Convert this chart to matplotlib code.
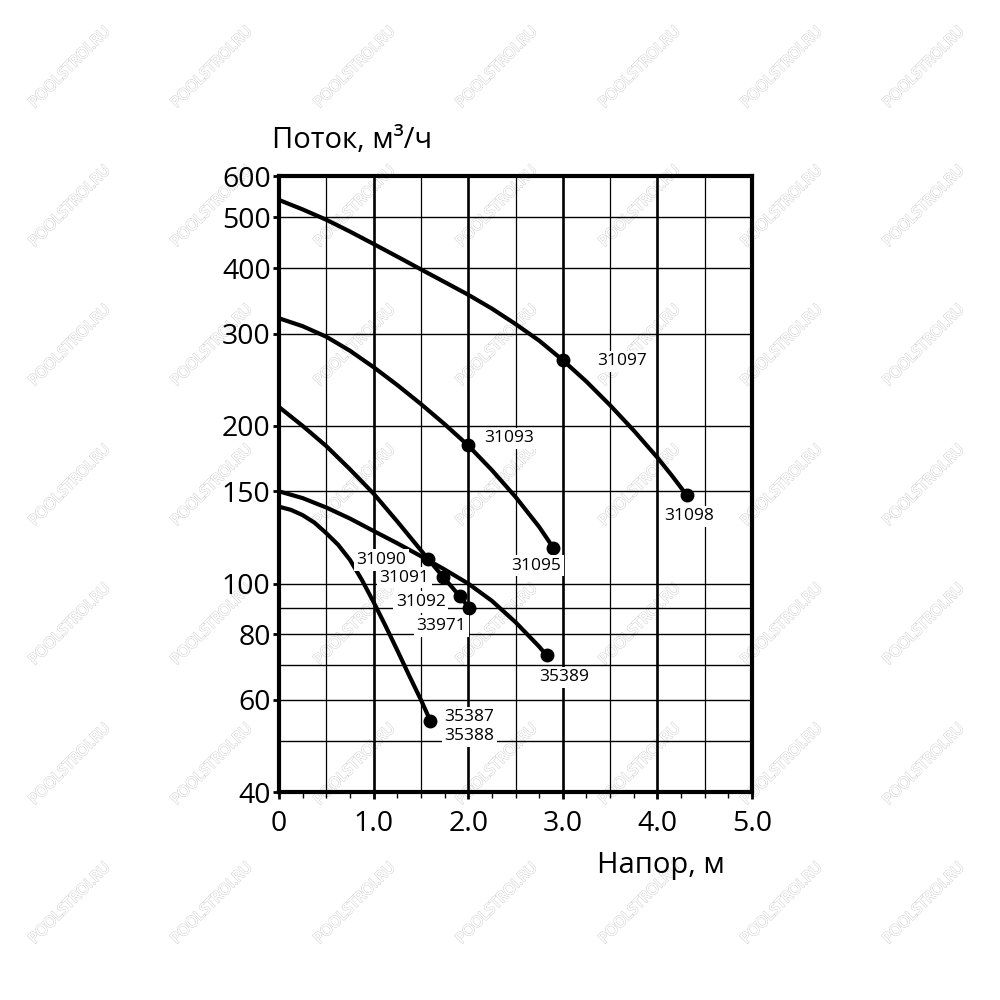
import matplotlib
matplotlib.use("Agg")
import matplotlib.pyplot as plt
import matplotlib.patheffects as pe
from matplotlib.ticker import FixedLocator, MultipleLocator, NullLocator, FixedFormatter

plt.rcParams['font.family'] = ['Open Sans', 'DejaVu Sans']

# ---- data (head in m, flow in m3/h) ----
head_a = [0, 0.25, 0.5, 0.75, 1.0, 1.25, 1.5, 1.75, 2.0, 2.25, 2.5, 2.75, 3.0, 3.25, 3.5, 3.75, 4.0, 4.15, 4.31]
flow_a = [540, 518, 495, 470, 445, 421, 398, 376.5, 356, 335, 313, 291, 267, 243, 219, 196, 174, 161, 147.5]

head_b = [0, 0.25, 0.5, 0.75, 1.0, 1.25, 1.5, 1.75, 2.0, 2.25, 2.5, 2.75, 2.9]
flow_b = [321, 310, 296, 278.3, 258.9, 239.4, 220.2, 201.6, 183.5, 164.7, 146.4, 128.3, 117]

head_c = [0, 0.25, 0.5, 0.75, 1.0, 1.25, 1.576, 1.734, 1.909, 2.01]
flow_c = [217.3, 200, 183, 165.3, 148.5, 131.4, 111.4, 103, 94.7, 89.8]

head_d = [0, 0.25, 0.5, 0.75, 1.0, 1.25, 1.5, 1.75, 2.0, 2.25, 2.5, 2.75, 2.83]
flow_d = [150, 145.6, 139.7, 133.1, 126, 119.4, 112.8, 106.4, 100, 92.7, 84.4, 75.8, 72.9]

head_e = [0, 0.125, 0.25, 0.375, 0.5, 0.625, 0.75, 0.875, 1.0, 1.125, 1.25, 1.375, 1.5, 1.6]
flow_e = [140.2, 138.3, 135.1, 130.7, 124.8, 118.6, 111.0, 101.7, 92.2, 83.1, 74.6, 66.8, 60.0, 54.7]

# marked points (index in each curve) and their labels
marked_a = [12, 18]
marked_b = [8, 12]
marked_c = [6, 7, 8, 9]
marked_d = [12]
marked_e = [13]

labels_a = ['31097', '31098']
labels_b = ['31093', '31095']
labels_c = ['31090', '31091', '31092', '33971']
labels_d = ['35389']
labels_e = ['35387\n35388']

y_ticks = [40, 60, 80, 100, 150, 200, 300, 400, 500, 600]
y_grid = [50, 60, 70, 80, 90, 100, 150, 200, 300, 400, 500]
x_ticks = [0, 1, 2, 3, 4, 5]
x_ticklabels = ['0', '1.0', '2.0', '3.0', '4.0', '5.0']

fig = plt.figure(figsize=(10, 10), dpi=100)
ax = fig.add_axes([0.279, 0.208, 0.473, 0.616])
ax.patch.set_facecolor('none')
ax.set_yscale('log')
ax.set_xlim(0, 5)
ax.set_ylim(40, 600)

# grid
for yv in y_grid:
    ax.axhline(yv, color='black', lw=1.0, zorder=1)
for xv in [0.5, 1.5, 2.5, 3.5, 4.5]:
    ax.axvline(xv, color='black', lw=0.9, zorder=1)
for xv in [1, 2, 3, 4]:
    ax.axvline(xv, color='black', lw=1.9, zorder=1)

curves = [
    (head_a, flow_a, marked_a, labels_a),
    (head_b, flow_b, marked_b, labels_b),
    (head_c, flow_c, marked_c, labels_c),
    (head_d, flow_d, marked_d, labels_d),
    (head_e, flow_e, marked_e, labels_e),
]

offsets = {
    '31097': ((34, -1), 'left'),
    '31098': ((2, -21), 'center'),
    '31093': ((16, 7), 'left'),
    '31095': ((-17, -18), 'center'),
    '31090': ((-22, -1), 'right'),
    '31091': ((-14, -1), 'right'),
    '31092': ((-14, -6), 'right'),
    '33971': ((-28, -18), 'center'),
    '35389': ((17, -22), 'center'),
    '35387\n35388': ((14, -6), 'left'),
}

for hx, fy, marks, labs in curves:
    ax.plot(hx, fy, color='black', lw=3.0, solid_capstyle='round',
            solid_joinstyle='round', zorder=3)
    ax.plot([hx[i] for i in marks], [fy[i] for i in marks], 'o', color='black',
            markersize=9, zorder=4)
    for i, lab in zip(marks, labs):
        (dx, dy), ha = offsets[lab]
        ax.annotate(lab, xy=(hx[i], fy[i]), xytext=(dx, dy), textcoords='offset pixels',
                    ha=ha, va='center', fontsize=12.5, linespacing=1.25, zorder=5,
                    bbox=dict(boxstyle='square,pad=0.15', fc='white', ec='none'))

# ticks
ax.yaxis.set_major_locator(FixedLocator(y_ticks))
ax.yaxis.set_major_formatter(FixedFormatter([str(v) for v in y_ticks]))
ax.yaxis.set_minor_locator(NullLocator())
ax.xaxis.set_major_locator(FixedLocator(x_ticks))
ax.xaxis.set_major_formatter(FixedFormatter(x_ticklabels))
ax.xaxis.set_minor_locator(MultipleLocator(0.25))
ax.tick_params(axis='y', which='major', direction='out', length=4, width=2,
               labelsize=20.5, pad=2)
ax.tick_params(axis='x', which='major', direction='out', length=5, width=2,
               labelsize=20.5, pad=8)
ax.tick_params(axis='x', which='minor', direction='out', length=4, width=1)

for s in ax.spines.values():
    s.set_linewidth(3.0)
    s.set_zorder(6)

fig.text(0.272, 0.86, 'Поток, м³/ч', ha='left', va='center', fontsize=21)
fig.text(0.725, 0.134, 'Напор, м', ha='right', va='center', fontsize=21)

# watermark (behind the chart)
wm_x = [70, 212, 355, 497, 640, 782, 924]
wm_y = [68, 207, 346, 486, 625, 765, 904]
for wx in wm_x:
    for wy in wm_y:
        fig.text(wx / 1000, 1 - wy / 1000, 'POOLSTROI.RU', rotation=45,
                 ha='center', va='center', fontsize=11, color='white', zorder=-1,
                 path_effects=[pe.withStroke(linewidth=1.0, foreground='#d4d4d4'),
                               pe.Normal()])

fig.savefig('out.png', dpi=100, facecolor='white')
